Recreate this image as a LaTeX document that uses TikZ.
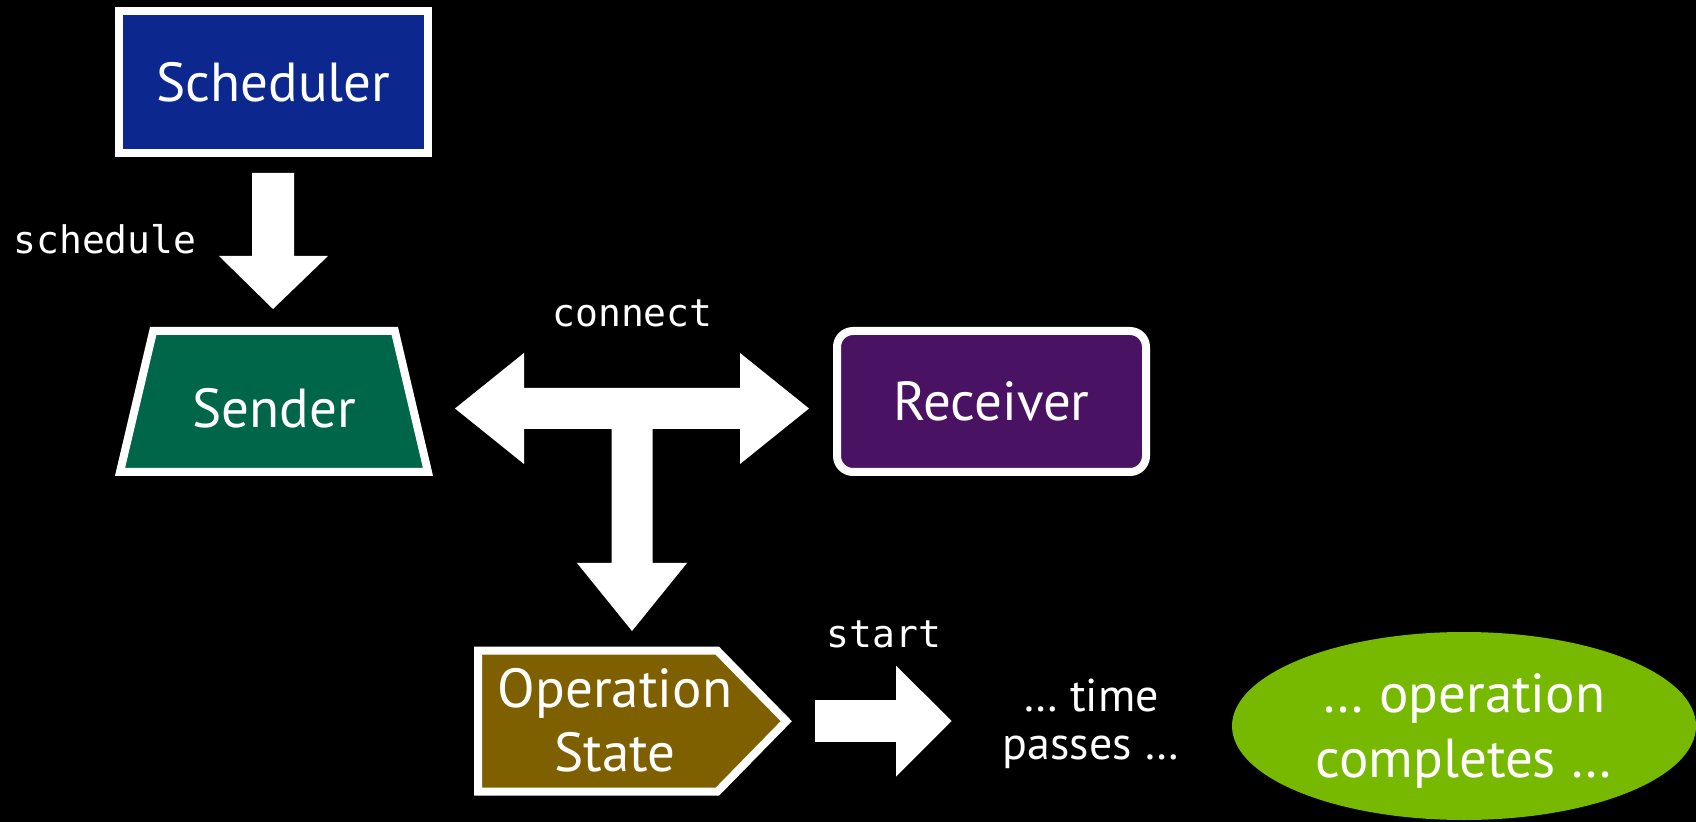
\documentclass[tikz,border=0pt]{standalone}
\usepackage{fontspec}
\setmainfont{PT Sans}
\newfontfamily\monofont{DejaVu Sans Mono}
\usetikzlibrary{shapes.geometric}
\definecolor{schedblue}{HTML}{0C288E}
\definecolor{sendgreen}{HTML}{00664A}
\definecolor{recvpurple}{HTML}{4A1262}
\definecolor{opbrown}{HTML}{7F6000}
\definecolor{nvgreen}{HTML}{76B900}
\begin{document}
\begin{tikzpicture}[x=0.5pt,y=-0.5pt,
  box/.style={draw=white,line width=4pt,inner sep=0pt,text=white,
    font=\fontsize{27.5}{32}\selectfont,align=center},
  shapeborder/.style={draw=white,line width=4pt,line join=miter},
  lbl/.style={text=white,font=\fontsize{27.5}{32}\selectfont,align=center,inner sep=0pt},
  code/.style={text=white,font=\monofont\fontsize{19}{23}\selectfont,inner sep=0pt,anchor=base},
  blockarrow/.style={fill=white,draw=none}]
\fill[black] (0,0) rectangle (1696,822);
\useasboundingbox (0,0) rectangle (1696,822);

% Scheduler
\node[box,fill=schedblue,minimum width=154.5pt,minimum height=71pt] (sched) at (273.5,82) {Scheduler};

% Sender (trapezoid)
\filldraw[shapeborder,fill=sendgreen] (120,472) -- (153.2,331) -- (394.8,331) -- (428,472) -- cycle;
\node[lbl] (sender) at (274,408) {Sender};

% Receiver
\node[box,fill=recvpurple,rounded corners=8pt,minimum width=154.5pt,minimum height=70.5pt] (recv) at (991.5,401.5) {Receiver};

% Operation State (pointer)
\filldraw[shapeborder,fill=opbrown] (478,650.7) -- (717.3,650.7) -- (786.3,721.2) -- (717.3,791.7) -- (478,791.7) -- cycle;
\node[lbl] (opstate) at (615,720) {Operation\\State};

% time passes
\node[lbl,font=\fontsize{23}{24}\selectfont] (time) at (1091,724) {… time\\passes …};

% operation completes
\node[ellipse,fill=nvgreen,minimum width=232pt,minimum height=94pt,inner sep=0pt,
  text=white,font=\fontsize{27.5}{32.5}\selectfont,align=center,text depth=0pt] (done) at (1464,726) {… operation\\completes …};

% labels
\node[code] (schedlbl) at (105,254) {schedule};
\node[code] (connlbl) at (632.5,326.7) {connect};
\node[code] (startlbl) at (884,647) {start};

% schedule arrow: Scheduler -> Sender
\coordinate (schedA) at (273,173);
\coordinate (schedB) at (273,309);
\fill[blockarrow] (252,173) -- (294,173) -- (294,256) -- (328,256) -- (schedB) -- (219,256) -- (252,256) -- cycle;

% connect T arrow: Sender <-> Receiver, down to Operation State
\coordinate (connL) at (455,408.5);
\coordinate (connR) at (809,408.5);
\coordinate (connD) at (632,631);
\fill[blockarrow] (connL) -- (524,353) -- (524,388) -- (740,388) -- (740,353) -- (connR)
  -- (740,464) -- (740,429) -- (652.5,429) -- (652.5,563) -- (687,563) -- (connD)
  -- (577,563) -- (611.5,563) -- (611.5,429) -- (524,429) -- (524,464) -- cycle;

% start arrow: Operation State -> time passes
\coordinate (startA) at (815,721);
\coordinate (startB) at (951.7,721);
\fill[blockarrow] (815,700.2) -- (896,700.2) -- (896,665.7) -- (startB) -- (896,776.7) -- (896,741.8) -- (815,741.8) -- cycle;
\end{tikzpicture}
\end{document}
